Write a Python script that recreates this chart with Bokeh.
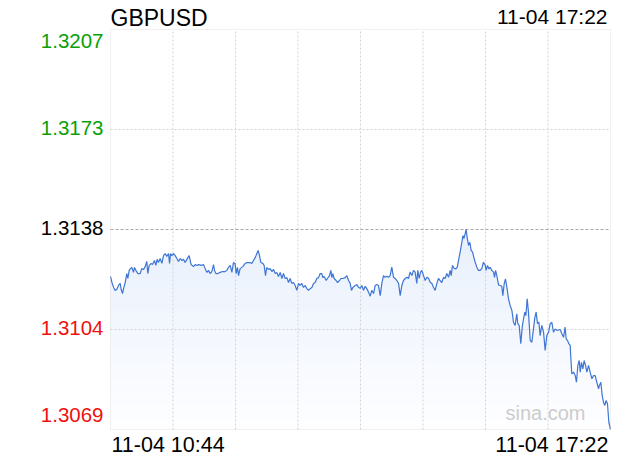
import numpy as np
from bokeh.plotting import figure
from bokeh.models import Range1d, Label, BoxAnnotation
from bokeh.embed import file_html
from bokeh.resources import INLINE

# ---------------- data ----------------
symbol = "GBPUSD"
stamp = "11-04 17:22"
x_labels = ["11-04 10:44", "11-04 17:22"]
y_labels = ["1.3207", "1.3173", "1.3138", "1.3104", "1.3069"]
prev_close = 1.3138
y_low, y_high = 1.3069, 1.3207
session_minutes = 398  # 10:44 -> 17:22
watermark = "sina.com"

# minutes since 10:44
minutes = [
    0, 1.1, 2.4, 3.7, 5.0, 6.4, 7.7, 8.5, 9.6, 10.4, 11.7, 13.0, 13.8, 14.9, 15.9, 17.0, 18.3, 19.1,
    20.2, 21.8, 23.6, 24.9, 26.3, 27.6, 28.9, 29.7, 30.8, 32.4, 33.4, 35.0, 36.1, 37.1, 38.2, 39.5,
    40.9, 42.2, 43.5, 44.8, 46.2, 47.0, 47.8, 48.8, 50.2, 51.5, 52.8, 54.1, 55.5, 56.8, 58.1, 59.4,
    61.6, 62.6, 64.2, 66.1, 67.4, 68.7, 70.1, 72.2, 74.0, 75.4, 76.7, 78.0, 79.3, 80.7, 82.0, 82.8,
    83.9, 85.4, 87.3, 89.2, 91.3, 92.6, 93.9, 95.3, 96.6,
    97.9, 99.2, 100.0, 101.1, 101.9, 103.2, 105.3, 107.2, 108.5, 111.2, 112.5, 113.8, 115.2, 116.5,
    117.5, 118.6, 119.7, 121.3, 122.3, 123.4, 124.4, 125.8, 127.1, 128.4, 129.8, 131.1, 132.4, 133.7,
    135.1, 136.4, 137.7, 139.0, 140.4, 141.7, 143.0, 144.3, 145.7, 147.0, 148.3, 149.7, 151.0, 152.3,
    153.6, 155.0, 156.3, 157.6, 158.9, 160.3, 161.6, 162.9, 164.2, 165.6, 166.9, 168.2, 169.0, 170.1,
    171.7, 172.7, 174.3, 175.4, 176.2, 177.0, 178.0, 179.6, 180.7, 182.3, 183.3, 184.9, 186.8, 188.1,
    189.5, 190.8, 191.8, 192.9, 194.8, 196.1,
    197.4, 198.7, 200.1, 201.4, 202.7, 204.0, 205.4, 206.7, 208.0, 209.4, 210.7, 212.0, 213.3, 214.7,
    216.0, 217.3, 218.6, 220.0, 221.3, 222.6, 223.9, 225.3, 226.6, 227.9, 229.3, 230.6, 231.9, 233.2,
    234.6, 235.9, 237.2, 238.5, 239.9, 241.2, 242.5, 243.8, 244.6, 245.7, 246.8, 247.8, 249.2, 250.5,
    251.8, 253.1, 254.5, 255.8, 257.1, 258.4, 259.8, 261.1, 262.4, 263.7, 265.1, 266.4, 267.7, 269.1,
    270.4, 271.2, 272.2, 273.6, 274.9, 276.0, 277.0, 278.3, 279.7, 280.5, 281.3, 282.3, 283.1, 283.9,
    285.0, 286.0, 287.1, 288.2, 289.2, 290.3, 291.6, 292.9, 294.3, 295.6,
    296.9, 298.2, 299.0, 300.1, 301.2, 302.2, 303.5, 304.9, 305.7, 306.5, 307.5, 308.9, 310.2, 311.5,
    312.3, 313.4, 314.4, 315.5, 316.8, 318.1, 319.5, 320.8, 322.1, 323.4, 324.2, 325.3, 326.6, 327.7,
    328.8, 329.8, 330.6, 331.7, 332.7, 334.1, 335.4, 336.7, 337.8, 338.8, 339.9, 341.0, 342.0, 343.3,
    344.7, 346.0, 347.3, 348.7, 350.0, 351.3, 352.6, 354.0, 355.3, 357.9, 359.3, 360.6, 361.9, 362.7,
    363.8, 364.8, 365.9, 366.4, 367.2, 368.6, 369.9, 370.9, 372.0, 373.1, 373.9, 374.9, 376.0, 377.0,
    378.1, 379.2, 380.5, 381.8, 383.2, 384.5, 385.8, 387.1, 388.5, 389.2, 390.3, 391.4, 392.4, 393.5,
    394.5, 395.6, 396.7, 398.0,
]

prices = [
    1.31218, 1.31198, 1.31181, 1.31170, 1.31173, 1.31187, 1.31194, 1.31173, 1.31159, 1.31176,
    1.31197, 1.31228, 1.31211, 1.31239, 1.31245, 1.31249, 1.31232, 1.31249, 1.31239, 1.31228,
    1.31228, 1.31245, 1.31242, 1.31252, 1.31270, 1.31228, 1.31256, 1.31263, 1.31259, 1.31273,
    1.31256, 1.31277, 1.31266, 1.31280, 1.31263, 1.31290, 1.31297, 1.31287, 1.31297, 1.31263,
    1.31297, 1.31290, 1.31297, 1.31290, 1.31280, 1.31270, 1.31280, 1.31273, 1.31277, 1.31266,
    1.31283, 1.31290, 1.31259, 1.31252, 1.31259, 1.31256, 1.31259, 1.31256, 1.31259, 1.31245,
    1.31232, 1.31239, 1.31228, 1.31235, 1.31259, 1.31239, 1.31228, 1.31228, 1.31232, 1.31235,
    1.31235, 1.31239, 1.31249, 1.31256, 1.31232,
    1.31266, 1.31263, 1.31228, 1.31249, 1.31221, 1.31245, 1.31252, 1.31263, 1.31266, 1.31266,
    1.31263, 1.31273, 1.31283, 1.31297, 1.31308, 1.31290, 1.31266, 1.31263, 1.31256, 1.31221,
    1.31249, 1.31242, 1.31245, 1.31235, 1.31242, 1.31228, 1.31232, 1.31218, 1.31232, 1.31211,
    1.31228, 1.31211, 1.31214, 1.31197, 1.31211, 1.31194, 1.31197, 1.31187, 1.31170, 1.31194,
    1.31187, 1.31194, 1.31180, 1.31187, 1.31176, 1.31170, 1.31176, 1.31180, 1.31194, 1.31197,
    1.31211, 1.31214, 1.31228, 1.31228, 1.31214, 1.31218, 1.31204, 1.31211, 1.31221, 1.31239,
    1.31214, 1.31228, 1.31211, 1.31204, 1.31197, 1.31204, 1.31211, 1.31211, 1.31214, 1.31221,
    1.31204, 1.31194, 1.31170, 1.31180, 1.31187, 1.31190,
    1.31181, 1.31177, 1.31187, 1.31170, 1.31184, 1.31176, 1.31164, 1.31150, 1.31170, 1.31159,
    1.31187, 1.31190, 1.31187, 1.31152, 1.31194, 1.31221, 1.31215, 1.31219, 1.31215, 1.31221,
    1.31250, 1.31215, 1.31211, 1.31204, 1.31194, 1.31152, 1.31187, 1.31204, 1.31211, 1.31215,
    1.31211, 1.31233, 1.31221, 1.31239, 1.31233, 1.31194, 1.31239, 1.31211, 1.31233, 1.31239,
    1.31221, 1.31204, 1.31215, 1.31212, 1.31198, 1.31194, 1.31181, 1.31170, 1.31194, 1.31211,
    1.31204, 1.31197, 1.31215, 1.31211, 1.31228, 1.31215, 1.31239, 1.31221, 1.31256, 1.31246,
    1.31244, 1.31250, 1.31273, 1.31302, 1.31336, 1.31359, 1.31349, 1.31365, 1.31380, 1.31353,
    1.31325, 1.31336, 1.31308, 1.31302, 1.31284, 1.31267, 1.31250, 1.31239, 1.31239, 1.31246,
    1.31267, 1.31258, 1.31239, 1.31256, 1.31244, 1.31250, 1.31239, 1.31233, 1.31215, 1.31239,
    1.31221, 1.31189, 1.31187, 1.31184, 1.31152, 1.31193, 1.31210, 1.31181, 1.31141, 1.31118,
    1.31101, 1.31060, 1.31049, 1.31089, 1.31055, 1.31049, 1.30986, 1.31043, 1.31072, 1.31095,
    1.31083, 1.31141, 1.31095, 1.30997, 1.30991, 1.31037, 1.31077, 1.31095, 1.31055, 1.31060,
    1.31014, 1.31049, 1.31026, 1.30963, 1.31014, 1.31026, 1.31055, 1.31060, 1.31026, 1.31037,
    1.31032, 1.31035, 1.31020, 1.31008, 1.31043, 1.31003, 1.30997, 1.30986, 1.30980, 1.30939,
    1.30882, 1.30888, 1.30876, 1.30853, 1.30911, 1.30928, 1.30888, 1.30922, 1.30899, 1.30928,
    1.30911, 1.30888, 1.30911, 1.30888, 1.30865, 1.30876, 1.30876, 1.30853, 1.30830, 1.30842,
    1.30853, 1.30807, 1.30784, 1.30773, 1.30790, 1.30779, 1.30715, 1.30690,
]

# ---------------- layout / styling ----------------
FONT = "Liberation Sans"
LINE_COLOR = "#3f76d4"
GRID_COLOR = "#d2d2d2"
GREEN, BLACK, RED = "#0a9f0a", "#000000", "#ee1111"
FILL_TOP = (232, 240, 252)
FILL_BOTTOM = (254, 254, 255)

W, H = 616, 458
# pixel box of the price area inside the canvas
left_px, right_px, top_px, bottom_px = 110, 610, 29, 429
span = y_high - y_low
x_per_px = session_minutes / (right_px - left_px)
y_per_px = span / (bottom_px - top_px)
x_start = -left_px * x_per_px
x_end = x_start + W * x_per_px
y_end = y_high + top_px * y_per_px
y_start = y_end - H * y_per_px

p = figure(width=W, height=H,
           x_range=Range1d(x_start, x_end), y_range=Range1d(y_start, y_end),
           output_backend="svg", toolbar_location=None,
           x_axis_location=None, y_axis_location=None,
           min_border=0, min_border_left=0, min_border_right=0,
           min_border_top=0, min_border_bottom=0,
           background_fill_color="white", border_fill_color="white",
           outline_line_color=None)
p.grid.visible = False

x = np.array(minutes, dtype=float)
y = np.array(prices, dtype=float)

# gradient area fill: opaque layers, each from its level up to the price line
n_layers = 40
top = y.max()
edges = np.linspace(y_low, top, n_layers + 1)[:-1]
for k, e in enumerate(edges):
    t = k / (n_layers - 1)
    rgb = tuple(int(round(b + (a - b) * t)) for a, b in zip(FILL_TOP, FILL_BOTTOM))
    p.varea(x=x, y1=np.full_like(y, e), y2=np.maximum(y, e),
            fill_color="#%02x%02x%02x" % rgb, fill_alpha=1.0)

# grid lines (8 vertical divisions, quarter levels horizontally)
vticks = [session_minutes * k / 8 for k in range(1, 8)]
p.segment(x0=vticks, y0=[y_low] * len(vticks), x1=vticks, y1=[y_high] * len(vticks),
          line_color=GRID_COLOR, line_dash="2 2", line_width=1)
hticks = [y_low + span * 0.25, y_low + span * 0.75]
p.segment(x0=[0] * 2, y0=hticks, x1=[session_minutes] * 2, y1=hticks,
          line_color=GRID_COLOR, line_dash="2 2", line_width=1)
p.segment(x0=[0], y0=[prev_close], x1=[session_minutes], y1=[prev_close],
          line_color="#a8a8a8", line_dash="3 2", line_width=1)

p.line(x, y, line_color=LINE_COLOR, line_width=1.2)

# frame of the price area
p.add_layout(BoxAnnotation(left=0, right=session_minutes, bottom=y_low, top=y_high,
                           fill_alpha=0, line_color="#cfcfcf", line_width=1))

# title and timestamp
p.add_layout(Label(x=0, y=y_high, text=symbol, x_offset=0, y_offset=12,
                   text_font=FONT, text_font_size="23px", text_color=BLACK,
                   text_align="left", text_baseline="alphabetic"))
p.add_layout(Label(x=session_minutes, y=y_high, text=stamp, x_offset=-3, y_offset=13.5,
                   text_font=FONT, text_font_size="21px", text_color=BLACK,
                   text_align="right", text_baseline="alphabetic"))

# y labels, coloured against the previous close
n = len(y_labels)
for i, lab in enumerate(y_labels):
    yv = y_high - i * span / (n - 1)
    val = float(lab)
    color = GREEN if val > prev_close + 1e-9 else (RED if val < prev_close - 1e-9 else BLACK)
    if i == 0:
        yo = -11
    elif i == n - 1:
        yo = 14.5
    else:
        yo = 1.5
    p.add_layout(Label(x=0, y=yv, text=lab, x_offset=-7, y_offset=yo,
                       text_font=FONT, text_font_size="20.5px", text_color=color,
                       text_align="right", text_baseline="alphabetic"))

# x labels
p.add_layout(Label(x=0, y=y_low, text=x_labels[0], x_offset=1, y_offset=-15.5,
                   text_font=FONT, text_font_size="21.5px", text_color=BLACK,
                   text_align="left", text_baseline="alphabetic"))
p.add_layout(Label(x=session_minutes, y=y_low, text=x_labels[1], x_offset=-2, y_offset=-15.5,
                   text_font=FONT, text_font_size="21.5px", text_color=BLACK,
                   text_align="right", text_baseline="alphabetic"))

# watermark
p.add_layout(Label(x=session_minutes, y=y_low, text=watermark, x_offset=-25, y_offset=17,
                   text_font=FONT, text_font_size="20px", text_color="#cccccc",
                   text_align="right", text_baseline="alphabetic"))

open("out.html", "w").write(file_html(p, INLINE))
